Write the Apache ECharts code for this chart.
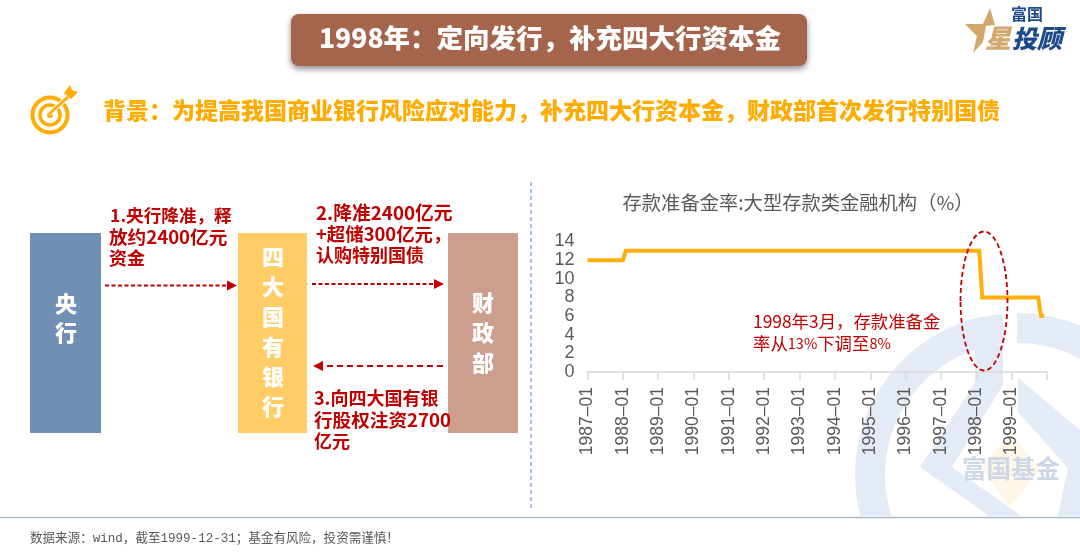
<!DOCTYPE html>
<html>
<head>
<meta charset="utf-8">
<style>html,body{margin:0;padding:0;background:#fff}#main{width:1080px;height:560px}</style>
<script src="https://cdn.jsdelivr.net/npm/echarts@6/dist/echarts.min.js"></script>
</head>
<body>
<div id="main"></div>
<script>
var years = ['1987', '1988', '1989', '1990', '1991', '1992', '1993', '1994', '1995', '1996', '1997', '1998', '1999'];
var months = ['01', '02', '03', '04', '05', '06', '07', '08', '09', '10', '11', '12'];

// monthly reserve ratio, %
var rate1987 = [12, 12, 12, 12, 12, 12, 12, 12, 12, 12, 12, 12];
var rate1988 = [12, 13, 13, 13, 13, 13, 13, 13, 13, 13, 13, 13];
var rate1989 = [13, 13, 13, 13, 13, 13, 13, 13, 13, 13, 13, 13];
var rate1990 = [13, 13, 13, 13, 13, 13, 13, 13, 13, 13, 13, 13];
var rate1991 = [13, 13, 13, 13, 13, 13, 13, 13, 13, 13, 13, 13];
var rate1992 = [13, 13, 13, 13, 13, 13, 13, 13, 13, 13, 13, 13];
var rate1993 = [13, 13, 13, 13, 13, 13, 13, 13, 13, 13, 13, 13];
var rate1994 = [13, 13, 13, 13, 13, 13, 13, 13, 13, 13, 13, 13];
var rate1995 = [13, 13, 13, 13, 13, 13, 13, 13, 13, 13, 13, 13];
var rate1996 = [13, 13, 13, 13, 13, 13, 13, 13, 13, 13, 13, 13];
var rate1997 = [13, 13, 13, 13, 13, 13, 13, 13, 13, 13, 13, 13];
var rate1998 = [13, 13, 8, 8, 8, 8, 8, 8, 8, 8, 8, 8];
var rate1999 = [8, 8, 8, 8, 8, 8, 8, 8, 8, 8, 6, 6];

var categories = [];
years.forEach(function (y) {
    months.forEach(function (m) {
        categories.push(y + '-' + m);
    });
});
categories.push('2000-01'); // closing tick only, no data there

var rates = [].concat(rate1987, rate1988, rate1989, rate1990, rate1991, rate1992, rate1993,
    rate1994, rate1995, rate1996, rate1997, rate1998, rate1999, [null]);

var CJK = '"Noto Sans CJK SC", sans-serif';
var RED = '#C00000';

function label(x, y, text, size, color, weight, align, z) {
    return {
        type: 'text', x: x, y: y, z: z === undefined ? 5 : z,
        style: {
            text: text, fontFamily: CJK, fontSize: size, fill: color,
            fontWeight: weight || 'normal', align: align || 'left', verticalAlign: 'middle'
        }
    };
}

function box(x, w, color) {
    return { type: 'rect', z: 3, shape: { x: x, y: 233, width: w, height: 200 }, style: { fill: color } };
}

function arrow(x1, x2, y, lw, dash) {
    var dir = x2 > x1 ? 1 : -1;
    return [{
        type: 'line', z: 3,
        shape: { x1: x1, y1: y, x2: x2 - dir * 8, y2: y },
        style: { stroke: RED, lineWidth: lw, lineDash: dash }
    }, {
        type: 'polygon', z: 3,
        shape: { points: [[x2, y], [x2 - dir * 10, y - 5], [x2 - dir * 10, y + 5]] },
        style: { fill: RED }
    }];
}

var WATER = '#E4EAF6';
var logoBlue = label(1012, 38, '投顾', 25, '#1E4A8A', 900);
logoBlue.style.fontStyle = 'italic';
var logoStar = label(985, 38, '星', 26, '#D2A86C', 900);
logoStar.style.fontStyle = 'italic';

var graphics = [
    // watermark
    { type: 'sector', z: -5, shape: { cx: 1017, cy: 475, r: 162, r0: 132, startAngle: Math.PI * 0.5, endAngle: Math.PI * 1.5 - 0.09, clockwise: true }, style: { fill: WATER } },
    { type: 'sector', z: -5, shape: { cx: 1017, cy: 475, r: 162, r0: 132, startAngle: Math.PI * 1.5, endAngle: Math.PI * 1.5 + 0.6, clockwise: true }, style: { fill: WATER } },
    { type: 'polygon', z: -5, shape: { points: [[975, 345], [1003, 345], [1003, 385], [952, 467], [1027, 520], [995, 520], [920, 467], [975, 383]] }, style: { fill: WATER } },
    { type: 'polygon', z: -5, shape: { points: [[1018, 378], [1080, 430], [1080, 520], [1057, 520], [1068, 468], [1018, 412]] }, style: { fill: WATER } },
    { type: 'polygon', z: -5, shape: { points: [[1010, 432], [1040, 469], [1010, 507], [982, 469]] }, style: { fill: '#FEF6E6' } },
    label(962, 469, '富国基金', 24.5, '#CCD8E8', 'bold', 'left', -4),
    { type: 'rect', z: -3, shape: { x: 0, y: 516, width: 1080, height: 44 }, style: { fill: '#fff' } },

    // header
    { type: 'rect', z: 3, shape: { x: 291, y: 14, width: 516, height: 52, r: 8 }, style: { fill: '#A5654D', shadowBlur: 6, shadowColor: 'rgba(0,0,0,0.45)', shadowOffsetY: 3 } },
    label(550, 38, '1998年：定向发行，补充四大行资本金', 26.5, '#fff', 900, 'center'),
    label(103, 110, '背景：为提高我国商业银行风险应对能力，补充四大行资本金，财政部首次发行特别国债', 23, '#FFAB00', 900),

    // logo
    { type: 'polygon', z: 3, shape: { points: [[990, 8], [995, 25], [986, 26], [983, 42], [973, 53], [977, 36], [965, 24], [983, 24]] }, style: { fill: '#D2A86C' } },
    logoStar,
    logoBlue,
    label(1011, 14, '富国', 16, '#1E4A8A', 'bold'),

    // target icon
    { type: 'circle', z: 3, shape: { cx: 50, cy: 115, r: 17.5 }, style: { fill: 'none', stroke: '#FFAB00', lineWidth: 4 } },
    { type: 'circle', z: 3, shape: { cx: 50, cy: 115, r: 10 }, style: { fill: 'none', stroke: '#FFAB00', lineWidth: 3.5 } },
    { type: 'circle', z: 3, shape: { cx: 50, cy: 115, r: 3 }, style: { fill: '#FFAB00' } },
    { type: 'line', z: 4, shape: { x1: 49, y1: 114, x2: 68, y2: 97 }, style: { stroke: '#fff', lineWidth: 5 } },
    { type: 'line', z: 4, shape: { x1: 49, y1: 114, x2: 68, y2: 97 }, style: { stroke: '#FFAB00', lineWidth: 3 } },
    { type: 'polygon', z: 4, shape: { points: [[64, 93], [70, 85], [72, 90], [78, 92], [71, 99]] }, style: { fill: '#FFAB00' } },

    // flow diagram
    box(30, 71, '#6F8FB5'),
    box(238, 69, '#FFCC66'),
    box(448, 70, '#CB9E8E'),
    label(66, 304, '央', 22, '#fff', 900, 'center'),
    label(66, 333, '行', 22, '#fff', 900, 'center'),
    label(273, 257, '四', 22, '#fff', 900, 'center'),
    label(273, 287, '大', 22, '#fff', 900, 'center'),
    label(273, 317, '国', 22, '#fff', 900, 'center'),
    label(273, 347, '有', 22, '#fff', 900, 'center'),
    label(273, 377, '银', 22, '#fff', 900, 'center'),
    label(273, 407, '行', 22, '#fff', 900, 'center'),
    label(483, 303, '财', 22, '#fff', 900, 'center'),
    label(483, 333, '政', 22, '#fff', 900, 'center'),
    label(483, 363, '部', 22, '#fff', 900, 'center'),

    label(110, 215, '1.央行降准，释', 17.6, RED, 'bold'),
    label(109, 237, '放约2400亿元', 18.6, RED, 'bold'),
    label(109, 258, '资金', 18, RED, 'bold'),
    label(316, 213, '2.降准2400亿元', 18.8, RED, 'bold'),
    label(316, 234, '+超储300亿元，', 18.4, RED, 'bold'),
    label(316, 255, '认购特别国债', 18, RED, 'bold'),
    label(314, 398, '3.向四大国有银', 18, RED, 'bold'),
    label(314, 420, '行股权注资2700', 18.6, RED, 'bold'),
    label(314, 441, '亿元', 18, RED, 'bold'),

    // divider and footer
    { type: 'line', z: 1, shape: { x1: 531, y1: 182, x2: 531, y2: 510 }, style: { stroke: '#8FAED3', lineWidth: 1.5, lineDash: [4, 3] } },
    { type: 'line', z: 1, shape: { x1: 0, y1: 517.5, x2: 1080, y2: 517.5 }, style: { stroke: '#A9BBD0', lineWidth: 1.5 } },
    {
        type: 'text', x: 30, y: 539, z: 5,
        style: { text: '数据来源：wind，截至1999-12-31；基金有风险，投资需谨慎！', fontFamily: '"Liberation Mono", "Noto Sans CJK SC", monospace', fontSize: 12.55, fill: '#595959', verticalAlign: 'middle' }
    },

    // chart callout
    { type: 'ellipse', z: 5, shape: { cx: 984, cy: 301, rx: 23.5, ry: 69.5 }, style: { fill: 'none', stroke: RED, lineWidth: 1.8, lineDash: [5, 3] } },
    label(753, 321, '1998年3月，存款准备金', 17.4, RED),
    {
        type: 'text', x: 753, y: 343, z: 5,
        style: {
            text: '{a|率从}{b|13%}{a|下调至}{b|8%}',
            verticalAlign: 'middle',
            rich: {
                a: { fontFamily: CJK, fontSize: 17.4, fill: RED, color: RED },
                b: { fontFamily: CJK, fontSize: 14.5, fill: RED, color: RED }
            }
        }
    }
].concat(arrow(105, 237, 285.5, 1.8, [4, 2.5]), arrow(312, 444, 284, 1.8, [4, 2.5]), arrow(443, 313, 366, 2.2, [6, 4]));

var chart = echarts.init(document.getElementById('main'));
var option = {
    animation: false,
    backgroundColor: '#fff',
    title: {
        text: '存款准备金率:大型存款类金融机构（%）',
        left: 793, top: 198, textAlign: 'center', textVerticalAlign: 'middle',
        textStyle: { fontFamily: CJK, fontSize: 19.3, fontWeight: 'normal', color: '#595959' }
    },
    grid: { left: 587.5, right: 33, top: 241.5, bottom: 188, containLabel: false },
    xAxis: {
        type: 'category',
        boundaryGap: false,
        data: categories,
        axisLine: { lineStyle: { color: '#D9D9D9', width: 1.5 } },
        axisTick: {
            length: 8, alignWithLabel: true,
            lineStyle: { color: '#D9D9D9', width: 1.5 },
            interval: function (i) { return i % 12 === 0; }
        },
        axisLabel: {
            rotate: 90, margin: 15, fontSize: 17.5, color: '#595959', fontFamily: '"Liberation Sans", sans-serif',
            interval: function (i) { return i % 12 === 0 && i < 156; },
            formatter: function (v) { return v.replace('-', '–'); }
        }
    },
    yAxis: {
        type: 'value', min: 0, max: 14, interval: 2,
        axisLine: { show: false },
        axisTick: { show: false },
        splitLine: { show: false },
        axisLabel: { fontSize: 18, color: '#595959', margin: 13, fontFamily: '"Liberation Sans", sans-serif' }
    },
    series: [{
        name: '存款准备金率',
        type: 'line',
        data: rates,
        showSymbol: false,
        connectNulls: false,
        lineStyle: { color: '#FFAE0C', width: 4, join: 'miter' },
        z: 4
    }],
    graphic: { elements: graphics }
};
chart.setOption(option);
</script>
</body>
</html>
